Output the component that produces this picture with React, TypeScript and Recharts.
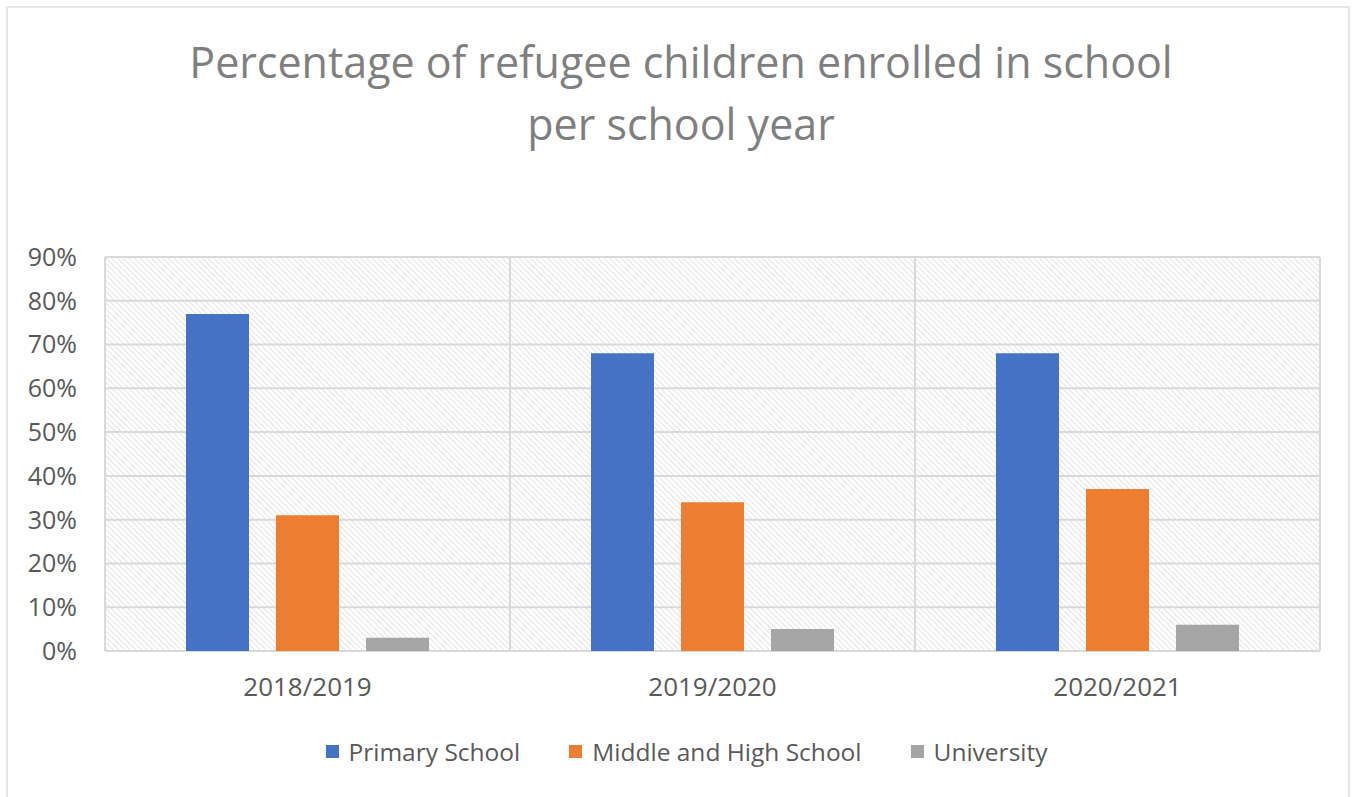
import React from "react";
import { BarChart, Bar, XAxis, YAxis, CartesianGrid, Legend } from "recharts";

const years = ["2018/2019", "2019/2020", "2020/2021"];
const primary = [77, 68, 68];
const middleHigh = [31, 34, 37];
const university = [3, 5, 6];
const yTicks = [0, 10, 20, 30, 40, 50, 60, 70, 80, 90];
const seriesNames = ["Primary School", "Middle and High School", "University"];

const data = years.map((year, i) => ({
  year,
  primary: primary[i],
  middleHigh: middleHigh[i],
  university: university[i],
}));

const FONT = "'Open Sans', 'Noto Sans', sans-serif";
const TEXT = "#595959";
const GRID = "#d9d9d9";

function LegendContent({ payload }: any) {
  const items = [...(payload || [])].sort(
    (a: any, b: any) => seriesNames.indexOf(a.value) - seriesNames.indexOf(b.value)
  );
  return (
    <div style={{ display: "flex", justifyContent: "center", alignItems: "center", height: 30, fontFamily: FONT, fontSize: 24.5, color: TEXT }}>
      {items.map((p: any, i: number) => (
        <div key={i} style={{ display: "flex", alignItems: "center", marginLeft: i === 0 ? 0 : 49 }}>
          <span style={{ display: "inline-block", width: 13, height: 13, background: p.color, marginRight: 10 }} />
          <span>{p.value}</span>
        </div>
      ))}
    </div>
  );
}

export default function App() {
  return (
    <div style={{ position: "absolute", left: 0, top: 0, width: 1353, height: 797, background: "#fff", overflow: "hidden" }}>
      <div style={{ position: "absolute", left: 6, top: 6, width: 1344, height: 800, border: "2px solid #e6e6e6", boxSizing: "border-box" }} />
      <div
        style={{
          position: "absolute",
          left: 0,
          top: 31,
          width: 1362,
          textAlign: "center",
          fontFamily: FONT,
          fontSize: 43,
          fontWeight: 500,
          lineHeight: "62px",
          color: "#7f7f7f",
        }}
      >
        Percentage of refugee children enrolled in school
        <br />
        per school year
      </div>
      <div style={{ position: "absolute", left: 0, top: 0 }}>
        <BarChart
          width={1353}
          height={797}
          data={data}
          margin={{ top: 257, right: 33, left: 0, bottom: 86 }}
          barCategoryGap="20%"
          barGap={27}
        >
          <defs>
            <pattern id="hatch" width="4" height="4" patternUnits="userSpaceOnUse" patternTransform="rotate(-45)">
              <rect width="4" height="4" fill="#ffffff" />
              <line x1="0" y1="0" x2="0" y2="4" stroke="#dcdcdc" strokeWidth="1.6" />
            </pattern>
          </defs>
          <CartesianGrid
            fill="url(#hatch)"
            stroke={GRID}
            strokeWidth={2}
            verticalCoordinatesGenerator={({ offset }: any) =>
              [0, 1, 2, 3].map((i) => offset.left + (offset.width * i) / years.length)
            }
          />
          <XAxis
            dataKey="year"
            axisLine={false}
            tickLine={false}
            tickMargin={21}
            height={30}
            tick={{ fill: TEXT, fontSize: 26, fontFamily: FONT }}
          />
          <YAxis
            domain={[0, 90]}
            ticks={yTicks}
            width={105}
            axisLine={false}
            tickLine={false}
            tickMargin={22}
            tickFormatter={(v) => `${v}%`}
            tick={{ fill: TEXT, fontSize: 25, fontFamily: FONT }}
          />
          <Legend
            verticalAlign="bottom"
            content={<LegendContent />}
            wrapperStyle={{ top: 736, bottom: "auto", left: 10, width: 1353, height: 30 }}
          />
          <Bar dataKey="primary" name={seriesNames[0]} fill="#4472C4" isAnimationActive={false} />
          <Bar dataKey="middleHigh" name={seriesNames[1]} fill="#ED7D31" isAnimationActive={false} />
          <Bar dataKey="university" name={seriesNames[2]} fill="#A5A5A5" isAnimationActive={false} />
        </BarChart>
      </div>
    </div>
  );
}
